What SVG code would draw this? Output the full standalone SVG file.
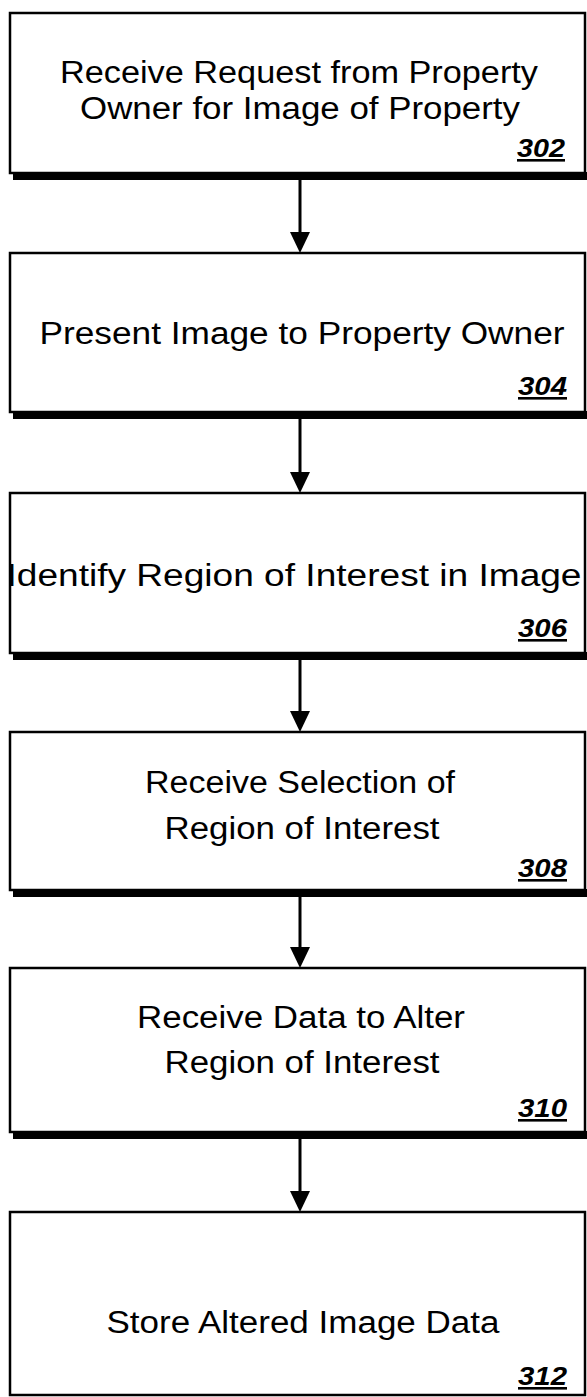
<svg xmlns="http://www.w3.org/2000/svg" width="587" height="1397" viewBox="0 0 587 1397">
<style>
.box{fill:#fff;stroke:#000;stroke-width:2.5}
.sh{fill:#000}
.t{font-family:"Liberation Sans",Arial,sans-serif;font-size:31px;fill:#000;text-anchor:middle}
.n{font-family:"Liberation Sans",Arial,sans-serif;font-size:26px;font-weight:bold;font-style:italic;fill:#000;text-decoration:underline}
.ln{stroke:#000;stroke-width:3;fill:none}
</style>
<rect width="587" height="1397" fill="#fff"/>
<g id="connectors">
<line class="ln" x1="300" y1="180" x2="300" y2="234"/><path d="M290,232 L310,232 L300,253 Z"/>
<line class="ln" x1="300" y1="419" x2="300" y2="474"/><path d="M290,472 L310,472 L300,493 Z"/>
<line class="ln" x1="300" y1="660" x2="300" y2="713"/><path d="M290,711 L310,711 L300,732 Z"/>
<line class="ln" x1="300" y1="897" x2="300" y2="949"/><path d="M290,947 L310,947 L300,968 Z"/>
<line class="ln" x1="300" y1="1139" x2="300" y2="1193"/><path d="M290,1191 L310,1191 L300,1212 Z"/>
</g>
<g id="n302">
<rect class="sh" x="13" y="172" width="574" height="8"/>
<rect class="box" x="10" y="13" width="575" height="160"/>
<text class="t" x="299" y="83" textLength="478" lengthAdjust="spacingAndGlyphs">Receive Request from Property</text>
<text class="t" x="300" y="119" textLength="440" lengthAdjust="spacingAndGlyphs">Owner for Image of Property</text>
<text class="n" x="517" y="157" textLength="48" lengthAdjust="spacingAndGlyphs">302</text>
</g>
<g id="n304">
<rect class="sh" x="13" y="411" width="574" height="8"/>
<rect class="box" x="10" y="253" width="575" height="159"/>
<text class="t" x="302" y="344" textLength="525" lengthAdjust="spacingAndGlyphs">Present Image to Property Owner</text>
<text class="n" x="518" y="395" textLength="49" lengthAdjust="spacingAndGlyphs">304</text>
</g>
<g id="n306">
<rect class="sh" x="13" y="652" width="574" height="8"/>
<rect class="box" x="10" y="493" width="575" height="160"/>
<text class="t" x="294" y="586" textLength="575" lengthAdjust="spacingAndGlyphs">Identify Region of Interest in Image</text>
<text class="n" x="518" y="637" textLength="49" lengthAdjust="spacingAndGlyphs">306</text>
</g>
<g id="n308">
<rect class="sh" x="13" y="889" width="574" height="8"/>
<rect class="box" x="10" y="732" width="575" height="158"/>
<text class="t" x="300" y="793" textLength="310" lengthAdjust="spacingAndGlyphs">Receive Selection of</text>
<text class="t" x="302" y="839" textLength="275" lengthAdjust="spacingAndGlyphs">Region of Interest</text>
<text class="n" x="518" y="877" textLength="49" lengthAdjust="spacingAndGlyphs">308</text>
</g>
<g id="n310">
<rect class="sh" x="13" y="1131" width="574" height="8"/>
<rect class="box" x="10" y="968" width="575" height="164"/>
<text class="t" x="301" y="1028" textLength="328" lengthAdjust="spacingAndGlyphs">Receive Data to Alter</text>
<text class="t" x="302" y="1073" textLength="275" lengthAdjust="spacingAndGlyphs">Region of Interest</text>
<text class="n" x="518" y="1117" textLength="49" lengthAdjust="spacingAndGlyphs">310</text>
</g>
<g id="n312">
<rect class="box" x="10" y="1212" width="575" height="183"/>
<text class="t" x="303" y="1333" textLength="393" lengthAdjust="spacingAndGlyphs">Store Altered Image Data</text>
<text class="n" x="518" y="1385" textLength="49" lengthAdjust="spacingAndGlyphs">312</text>
</g>
</svg>
